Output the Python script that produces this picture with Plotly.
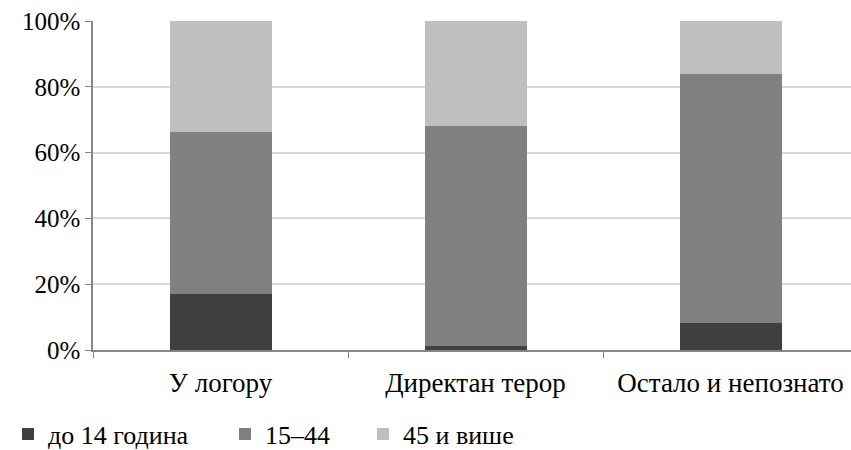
import plotly.graph_objects as go

categories = ["У логору", "Директан терор", "Остало и непознато"]
series_names = ["до 14 година", "15\u201344", "45 и више"]
s_under14 = [17.1, 1.3, 8.2]
s_15_44 = [49.2, 66.9, 75.8]
s_45plus = [33.7, 31.8, 16.0]
colors = ["#404040", "#808080", "#bfbfbf"]
ytick_vals = [0, 20, 40, 60, 80, 100]
ytick_text = ["0%", "20%", "40%", "60%", "80%", "100%"]

FONT = "Liberation Serif, Times New Roman, serif"
fig = go.Figure()
legends = ["legend", "legend2", "legend3"]
for name, vals, col, lg in zip(series_names, [s_under14, s_15_44, s_45plus], colors, legends):
    fig.add_trace(go.Bar(x=categories, y=vals, name=name, marker=dict(color=col, line=dict(width=0)),
                         width=0.4, legend=lg, showlegend=True))

W, H = 851, 450
ml, mr, mt, mb = 93, 0, 21, 100
ph = H - mt - mb
pw = W - ml - mr
leg_common = dict(orientation="h", yanchor="middle", y=1 - 434 / H, yref="container",
                  xanchor="left", xref="container",
                  font=dict(family=FONT, size=26, color="#000"), bgcolor="rgba(0,0,0,0)",
                  itemwidth=30, tracegroupgap=0, borderwidth=0)
fig.update_layout(
    width=W, height=H,
    margin=dict(l=ml, r=mr, t=mt, b=mb, autoexpand=False),
    barmode="stack",
    plot_bgcolor="white", paper_bgcolor="white",
    font=dict(family=FONT, size=26, color="#000"),
    legend=dict(x=8 / W, **leg_common),
    legend2=dict(x=225 / W, **leg_common),
    legend3=dict(x=363 / W, **leg_common),
    xaxis=dict(range=[-0.5, -0.5 + pw / 255], tickson="boundaries", ticks="outside", ticklen=6,
               tickcolor="#868686", showline=True, linecolor="#868686", linewidth=1.5,
               showgrid=False, ticklabelstandoff=8,
               tickfont=dict(family=FONT, size=27, color="#000")),
    yaxis=dict(range=[0, 100], tickvals=ytick_vals, ticktext=ytick_text, ticks="outside", ticklen=6,
               tickcolor="#868686", showline=True, linecolor="#868686", linewidth=1.5,
               gridcolor="#d9d9d9", gridwidth=1.5, zeroline=False,
               tickfont=dict(family=FONT, size=25, color="#000")),
)
fig.write_html("out.html", config={"displayModeBar": False},
               post_script="document.body.style.margin='0';document.body.style.padding='0';")
